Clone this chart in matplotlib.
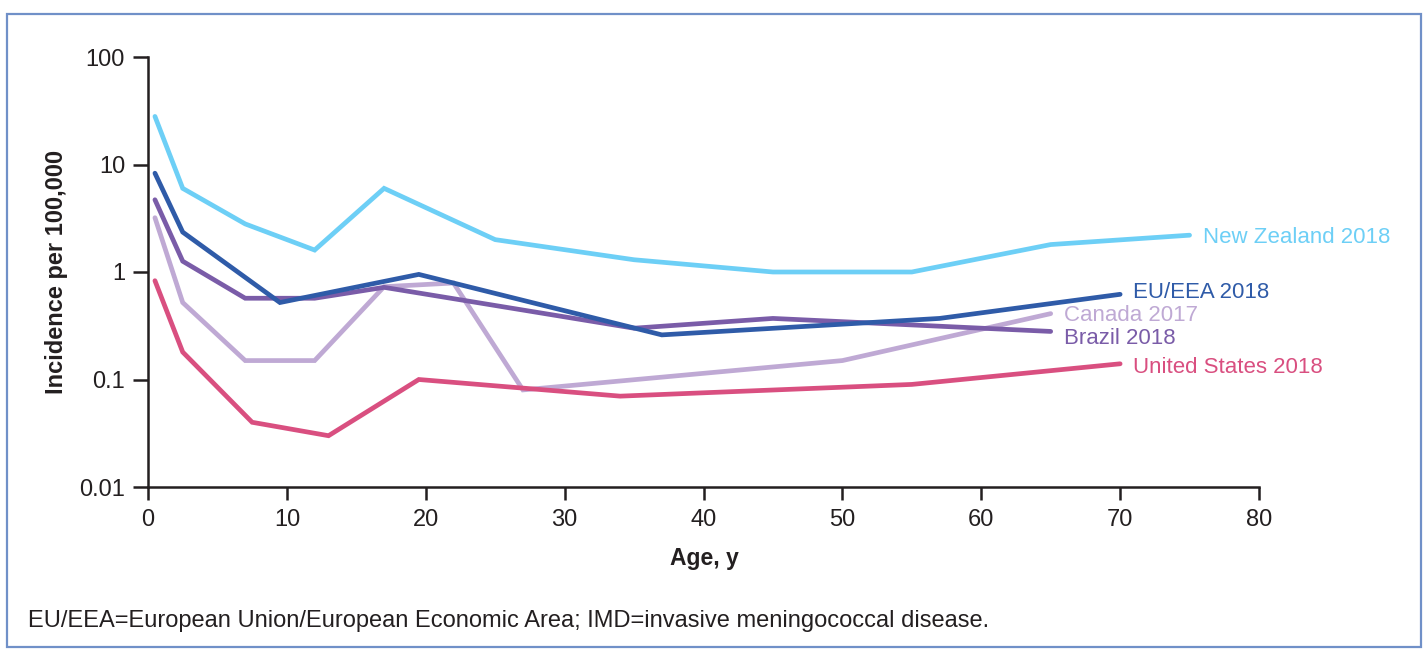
import matplotlib
matplotlib.use("Agg")
import matplotlib.pyplot as plt
from matplotlib.patches import Rectangle
from matplotlib.ticker import FixedLocator, NullLocator, FixedFormatter

plt.rcParams['font.family'] = ['Liberation Sans', 'DejaVu Sans']

# Incidence of IMD per 100,000 by age (years)
nz_age = [0.5, 2.5, 7, 12, 17, 25, 35, 45, 55, 65, 75]
nz_val = [28, 6.0, 2.8, 1.6, 6.0, 2.0, 1.3, 1.0, 1.0, 1.8, 2.2]

eu_age = [0.5, 2.5, 9.5, 19.5, 37, 57, 70]
eu_val = [8.3, 2.35, 0.52, 0.95, 0.26, 0.37, 0.62]

canada_age = [0.5, 2.5, 7, 12, 17, 22, 27, 50, 65]
canada_val = [3.2, 0.52, 0.15, 0.15, 0.73, 0.79, 0.08, 0.15, 0.41]

brazil_age = [0.5, 2.5, 7, 12, 17, 35, 45, 65]
brazil_val = [4.7, 1.26, 0.57, 0.57, 0.72, 0.30, 0.37, 0.28]

us_age = [0.5, 2.5, 7.5, 13, 19.5, 34, 55, 70]
us_val = [0.83, 0.18, 0.04, 0.03, 0.10, 0.07, 0.09, 0.14]

series_labels = ["New Zealand 2018", "EU/EEA 2018", "Canada 2017", "Brazil 2018", "United States 2018"]
series_colors = ["#6dcff6", "#2f5ba8", "#bfa9d4", "#7a5ca8", "#d94f80"]

x_ticks = [0, 10, 20, 30, 40, 50, 60, 70, 80]
y_ticks = [0.01, 0.1, 1, 10, 100]
y_tick_labels = ["0.01", "0.1", "1", "10", "100"]

INK = '#231f20'

fig = plt.figure(figsize=(14.27, 6.49), dpi=100)
ax = fig.add_axes([148 / 1427, 1 - 487 / 649, (1259 - 148) / 1427, (487 - 57) / 649])

series = [(nz_age, nz_val), (eu_age, eu_val), (canada_age, canada_val),
          (brazil_age, brazil_val), (us_age, us_val)]
# vertical label nudges in points, so crowded end labels stay readable
label_dy = [-1.5, 1.0, -1.0, -5.0, -2.5]

# draw order: light lines underneath
order = [2, 0, 4, 3, 1]
for i in order:
    ages, vals = series[i]
    ax.plot(ages, vals, color=series_colors[i], lw=3.4, solid_capstyle='round',
            solid_joinstyle='miter', zorder=3)

for i, (ages, vals) in enumerate(series):
    ax.annotate(series_labels[i], xy=(ages[-1], vals[-1]), xytext=(9.5, label_dy[i]),
                textcoords='offset points', color=series_colors[i], fontsize=16,
                va='center', ha='left')

ax.set_yscale('log')
ax.set_xlim(0, 80)
ax.set_ylim(0.01, 100)
ax.yaxis.set_major_locator(FixedLocator(y_ticks))
ax.yaxis.set_major_formatter(FixedFormatter(y_tick_labels))
ax.yaxis.set_minor_locator(NullLocator())
ax.set_xticks(x_ticks)

for side in ['top', 'right']:
    ax.spines[side].set_visible(False)
for side in ['left', 'bottom']:
    ax.spines[side].set_linewidth(1.8)
    ax.spines[side].set_color(INK)

ax.tick_params(axis='both', which='major', labelsize=17, width=1.8,
               color=INK, labelcolor=INK)
ax.tick_params(axis='y', length=11, pad=5.5)
ax.tick_params(axis='x', length=9.5, pad=6.5)

fig.text(704 / 1427, 1 - 558 / 649, "Age, y", ha='center', va='center',
         fontsize=16.5, fontweight='bold', color=INK)
fig.text(57 / 1427, 1 - 272 / 649, "Incidence per 100,000", ha='center', va='center',
         rotation=90, fontsize=17, fontweight='bold', color=INK)
fig.text(28 / 1427, 1 - 621 / 649,
         "EU/EEA=European Union/European Economic Area; IMD=invasive meningococcal disease.",
         ha='left', va='center', fontsize=17, color=INK)

# outer frame
fig.patches.append(Rectangle((7 / 1427, 2 / 649), (1421 - 7) / 1427, (647 - 14) / 649,
                             transform=fig.transFigure, fill=False,
                             edgecolor='#7090c8', linewidth=1.6))

fig.savefig("out.png", dpi=100)
